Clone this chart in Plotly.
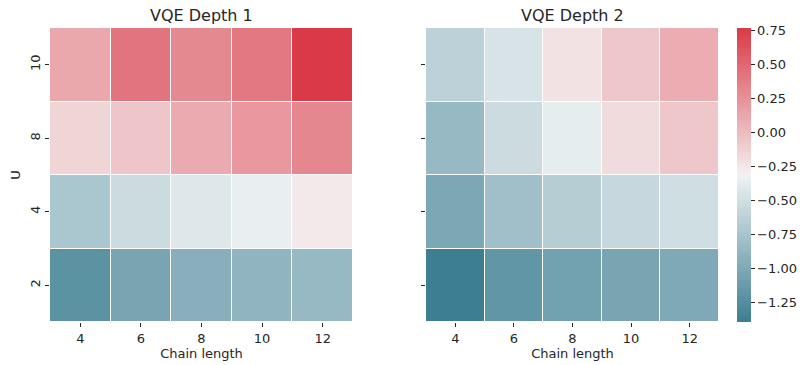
import plotly.graph_objects as go

chain_lengths = ["4", "6", "8", "10", "12"]
u_values = ["2", "4", "8", "10"]

# rows ordered bottom-to-top: U=2, 4, 8, 10
depth1 = [
    [-1.20, -1.03, -0.94, -0.88, -0.85],
    [-0.73, -0.53, -0.42, -0.35, -0.27],
    [-0.15, -0.06, 0.10, 0.21, 0.31],
    [0.12, 0.42, 0.30, 0.40, 0.765],
]
depth2 = [
    [-1.39, -1.17, -1.07, -1.03, -0.99],
    [-1.01, -0.79, -0.66, -0.56, -0.51],
    [-0.85, -0.53, -0.37, -0.19, -0.07],
    [-0.62, -0.46, -0.23, -0.07, 0.085],
]
titles = ["VQE Depth 1", "VQE Depth 2"]
cbar_ticks = [-1.25, -1.0, -0.75, -0.5, -0.25, 0.0, 0.25, 0.5, 0.75]

vmin, vmax = -1.39, 0.765
colorscale = [
    [0.0, "#3d7e92"],
    [0.496, "#eef2f3"],
    [0.5, "#f2f2f2"],
    [0.504, "#f4efef"],
    [1.0, "#da3a47"],
]

FONT = "DejaVu Sans"
TXT = "#262626"
TICK = 13
TITLE = 16

fig = go.Figure()
for i, z in enumerate([depth1, depth2]):
    fig.add_trace(go.Heatmap(
        x=chain_lengths, y=u_values, z=z,
        coloraxis="coloraxis", xgap=1, ygap=1,
        xaxis="x" if i == 0 else "x2", yaxis="y" if i == 0 else "y2",
        hoverongaps=False,
    ))

W, H = 803, 365
ml, mr, mt, mb = 50, 84, 28, 43
pw = W - ml - mr

axis_common = dict(
    type="category", showgrid=False, zeroline=False, showline=False,
    ticks="outside", ticklen=4, tickwidth=1, tickcolor=TXT,
    tickfont=dict(family=FONT, size=TICK, color=TXT),
)
xtitle = dict(text="Chain length", font=dict(size=TICK, family=FONT, color=TXT), standoff=2)

fig.update_layout(
    width=W, height=H,
    margin=dict(l=ml, r=mr, t=mt, b=mb, autoexpand=False),
    paper_bgcolor="white", plot_bgcolor="white",
    font=dict(family=FONT, color=TXT),
    xaxis=dict(domain=[0, (353 - ml) / pw], title=xtitle, anchor="y", **axis_common),
    yaxis=dict(domain=[0, 1], title=dict(text="U", font=dict(size=TICK, family=FONT, color=TXT), standoff=4), tickangle=-90, anchor="x", **axis_common),
    xaxis2=dict(domain=[(426 - ml) / pw, 1], title=xtitle, anchor="y2", **axis_common),
    yaxis2=dict(domain=[0, 1], anchor="x2", showticklabels=False, **axis_common),
    coloraxis=dict(
        colorscale=colorscale, cmin=vmin, cmax=vmax,
        colorbar=dict(
            x=(737 - ml) / pw, xanchor="left", xpad=0, ypad=0,
            y=0.5, yanchor="middle", len=1, lenmode="fraction",
            thickness=14, outlinewidth=0,
            tickmode="array", tickvals=cbar_ticks,
            ticktext=[f"{v:.2f}".replace("-", "\u2212") for v in cbar_ticks],
            ticks="outside", ticklen=4, tickcolor=TXT,
            tickfont=dict(family=FONT, size=TICK, color=TXT),
        ),
    ),
)
for t, (x0, x1) in zip(titles, [(50, 353), (426, 719)]):
    fig.add_annotation(
        text=t, xref="paper", yref="paper",
        x=((x0 + x1) / 2 - ml) / pw, y=1 + (mt - 15) / (H - mt - mb),
        showarrow=False, yanchor="middle", xanchor="center",
        font=dict(family=FONT, size=TITLE, color=TXT),
    )

fig.write_html("out.html")
